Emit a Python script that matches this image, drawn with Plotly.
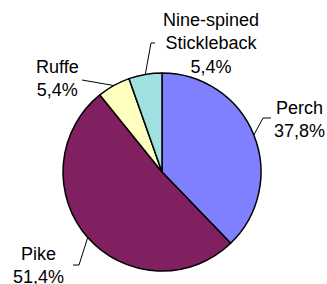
import math
import plotly.graph_objects as go

labels = ["Perch", "Pike", "Ruffe", "Nine-spined<br>Stickleback"]
values = [37.8, 51.4, 5.4, 5.4]
pct_text = ["37,8%", "51,4%", "5,4%", "5,4%"]
colors = ["#8080FF", "#802060", "#FFFFC0", "#A0E0E0"]

W, H = 327, 284
cx, cy, R = 162, 172, 99

# label placement (pixel offsets), leader elbow offsets
label_pos = [(299, 119), (38, 265), (57, 79), (211, 43)]
elbows = [[(263, 118), (271, 118)], [(79, 265), (73, 265)], [(82, 80)], [(151, 43), (155, 43)]]

fig = go.Figure(go.Pie(
    labels=labels, values=values, sort=False, direction="clockwise", rotation=0,
    marker=dict(colors=colors, line=dict(color="black", width=1.5)),
    textinfo="none", hoverinfo="label+percent", showlegend=False,
    domain=dict(x=[(cx - R) / W, (cx + R) / W], y=[(H - cy - R) / H, (H - cy + R) / H]),
))

def px(x, y):
    return x / W, 1 - y / H

total = sum(values)
cum = 0
shapes = []
annotations = []
for i, v in enumerate(values):
    mid = (cum + v / 2) / total * 2 * math.pi
    cum += v
    ex = cx + R * math.sin(mid)
    ey = cy - R * math.cos(mid)
    pts = [(ex, ey)] + elbows[i]
    path = ""
    for j, (x, y) in enumerate(pts):
        X, Y = px(x, y)
        path += ("M" if j == 0 else " L") + f" {X:.4f} {Y:.4f}"
    shapes.append(dict(type="path", path=path, xref="paper", yref="paper",
                       line=dict(color="black", width=1)))
    lx, ly = px(*label_pos[i])
    annotations.append(dict(text=f"{labels[i]}<br>{pct_text[i]}", x=lx, y=ly,
                            xref="paper", yref="paper", showarrow=False,
                            xanchor="center", yanchor="middle",
                            font=dict(family="Liberation Sans, Arial", size=18, color="black")))

fig.update_layout(width=W, height=H, margin=dict(l=0, r=0, t=0, b=0),
                  paper_bgcolor="white", plot_bgcolor="white",
                  shapes=shapes, annotations=annotations)
fig.write_html("out.html", config={"displayModeBar": False},
               post_script="document.body.style.margin='0';document.body.style.overflow='hidden';")
